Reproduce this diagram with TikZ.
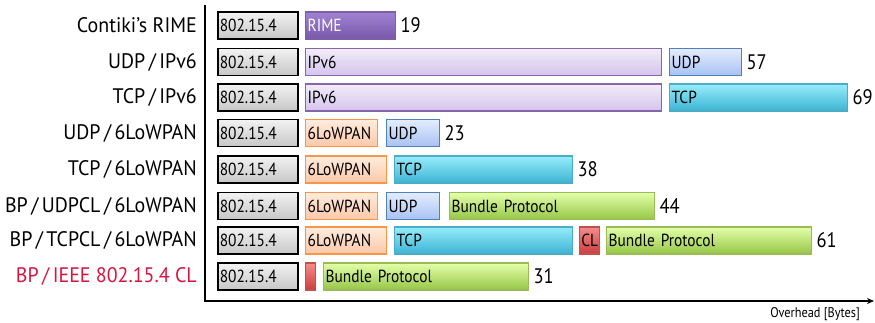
\documentclass[tikz,border=0pt]{standalone}
\usepackage{fontspec}
\setmainfont{PT Sans}[FakeStretch=0.88]
\newfontfamily\lblfont{PT Sans}[FakeStretch=0.95]
\usetikzlibrary{arrows.meta}
\definecolor{redlbl}{HTML}{D8153F}
\newcommand\slsep{\kern3.5pt/\kern3.5pt}
\tikzset{
  seg/.style={rectangle, draw, line width=1.3pt, minimum height=27pt, inner xsep=2pt, inner ysep=0pt, align=left, font=\fontsize{17.5}{18}\selectfont, text=black},
  mac/.style={draw=black, line width=1.6pt, top color=white!95!black, bottom color=black!22},
  rime/.style={draw={rgb,255:red,125;green,95;blue,165}, top color={rgb,255:red,160;green,130;blue,210}, bottom color={rgb,255:red,120;green,88;blue,170}, text=white},
  ipv/.style={draw={rgb,255:red,135;green,100;blue,170}, top color={rgb,255:red,242;green,236;blue,250}, bottom color={rgb,255:red,212;green,196;blue,236}},
  udp/.style={draw={rgb,255:red,79;green,129;blue,189}, top color={rgb,255:red,228;green,236;blue,255}, bottom color={rgb,255:red,168;green,194;blue,242}},
  tcp/.style={draw={rgb,255:red,75;green,172;blue,198}, top color={rgb,255:red,150;green,236;blue,250}, bottom color={rgb,255:red,60;green,180;blue,212}},
  low/.style={draw={rgb,255:red,247;green,150;blue,70}, top color={rgb,255:red,255;green,236;blue,222}, bottom color={rgb,255:red,252;green,200;blue,168}},
  bp/.style={draw={rgb,255:red,155;green,187;blue,89}, top color={rgb,255:red,228;green,255;blue,170}, bottom color={rgb,255:red,150;green,198;blue,70}},
  cl/.style={draw={rgb,255:red,192;green,80;blue,77}, top color={rgb,255:red,245;green,140;blue,140}, bottom color={rgb,255:red,205;green,60;blue,60}},
  rowlbl/.style={anchor=east, inner sep=0pt, font=\lblfont\fontsize{21}{22}\selectfont},
  num/.style={anchor=west, inner sep=0pt, font=\fontsize{21}{22}\selectfont},
  axis/.style={line width=2pt, -{Stealth[length=7pt,width=6pt]}},
}
\newcommand\seg[6]{%
  \pgfmathsetlengthmacro\segtw{(#4-#3)*1pt-4pt}%
  \node[seg,#2,text width=\segtw,minimum width={(#4-#3)*1pt},anchor=west] (#1) at (#3,#5) {#6};}
\begin{document}
\begin{tikzpicture}[x=1pt,y=-1pt]
\useasboundingbox (0,0) rectangle (875,322);
% axes
\coordinate (ytop) at (205,5);
\coordinate (orig) at (205,301);
\coordinate (xend) at (874,301);
\draw[axis] (ytop) -- (orig) -- (xend);
\node[anchor=east, inner sep=0pt, font=\fontsize{14}{15}\selectfont] (xlbl) at (860,314) {Overhead [Bytes]};

% row 1
\node[rowlbl] (l1) at (197,25.5) {Contiki’s RIME};
\seg{m1}{mac}{217}{297}{25.5}{802.15.4}
\seg{a1}{rime}{305}{395}{25.5}{RIME}
\node[num] (n1) at ([xshift=4pt]a1.east) {19};
% row 2
\node[rowlbl] (l2) at (197,62) {UDP\slsep IPv6};
\seg{m2}{mac}{217}{297}{62}{802.15.4}
\seg{a2}{ipv}{305}{661}{62}{IPv6}
\seg{b2}{udp}{669}{741}{62}{UDP}
\node[num] (n2) at ([xshift=4pt]b2.east) {57};
% row 3
\node[rowlbl] (l3) at (197,97.5) {TCP\slsep IPv6};
\seg{m3}{mac}{217}{297}{97.5}{802.15.4}
\seg{a3}{ipv}{305}{661}{97.5}{IPv6}
\seg{b3}{tcp}{669}{847}{97.5}{TCP}
\node[num] (n3) at ([xshift=4pt]b3.east) {69};
% row 4
\node[rowlbl] (l4) at (197,133) {UDP\slsep 6LoWPAN};
\seg{m4}{mac}{217}{297}{133}{802.15.4}
\seg{a4}{low}{305}{377}{133}{6LoWPAN}
\seg{b4}{udp}{386}{439}{133}{UDP}
\node[num] (n4) at ([xshift=4pt]b4.east) {23};
% row 5
\node[rowlbl] (l5) at (197,169.5) {TCP\slsep 6LoWPAN};
\seg{m5}{mac}{217}{297}{169.5}{802.15.4}
\seg{a5}{low}{305}{386}{169.5}{6LoWPAN}
\seg{b5}{tcp}{394}{572}{169.5}{TCP}
\node[num] (n5) at ([xshift=4pt]b5.east) {38};
% row 6
\node[rowlbl] (l6) at (197,206) {BP\slsep UDPCL\slsep 6LoWPAN};
\seg{m6}{mac}{217}{297}{206}{802.15.4}
\seg{a6}{low}{305}{377}{206}{6LoWPAN}
\seg{b6}{udp}{386}{439}{206}{UDP}
\seg{c6}{bp}{449}{654}{206}{Bundle Protocol}
\node[num] (n6) at ([xshift=4pt]c6.east) {44};
% row 7
\node[rowlbl] (l7) at (197,240.5) {BP\slsep TCPCL\slsep 6LoWPAN};
\seg{m7}{mac}{217}{297}{240.5}{802.15.4}
\seg{a7}{low}{305}{386}{240.5}{6LoWPAN}
\seg{b7}{tcp}{394}{572}{240.5}{TCP}
\node[seg,cl,minimum width=20pt,inner xsep=0pt,anchor=west] (c7) at (579,240.5) {CL};
\seg{d7}{bp}{606}{811}{240.5}{Bundle Protocol}
\node[num] (n7) at ([xshift=4pt]d7.east) {61};
% row 8
\node[rowlbl, text=redlbl] (l8) at (197,276.5) {BP\slsep IEEE 802.15.4 CL};
\seg{m8}{mac}{217}{297}{276.5}{802.15.4}
\node[seg,cl,minimum width=10pt,inner xsep=0pt,anchor=west] (a8) at (305,276.5) {};
\seg{b8}{bp}{323}{528}{276.5}{Bundle Protocol}
\node[num] (n8) at ([xshift=4pt]b8.east) {31};
\end{tikzpicture}
\end{document}
